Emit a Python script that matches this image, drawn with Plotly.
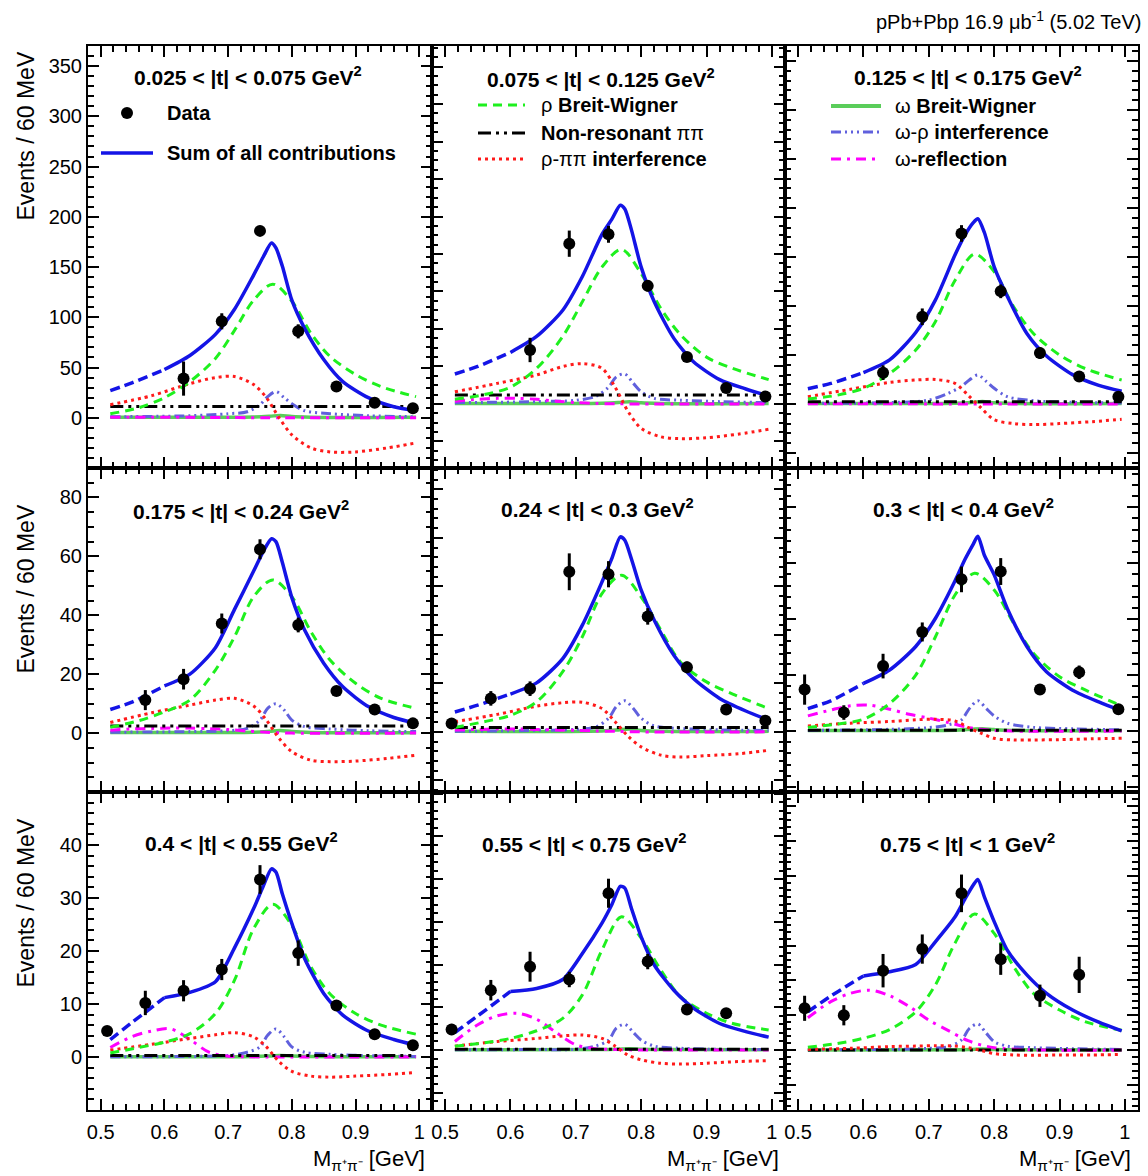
import plotly.graph_objects as go
from plotly.subplots import make_subplots

# ------------------------------------------------------------------ data
PANEL_LABELS = ["0.025 &lt; |t| &lt; 0.075 GeV", "0.075 &lt; |t| &lt; 0.125 GeV", "0.125 &lt; |t| &lt; 0.175 GeV",
                "0.175 &lt; |t| &lt; 0.24 GeV", "0.24 &lt; |t| &lt; 0.3 GeV", "0.3 &lt; |t| &lt; 0.4 GeV",
                "0.4 &lt; |t| &lt; 0.55 GeV", "0.55 &lt; |t| &lt; 0.75 GeV", "0.75 &lt; |t| &lt; 1 GeV"]

X_TICKS = [0.5, 0.6, 0.7, 0.8, 0.9, 1.0]
X_TICK_LABELS = ["0.5", "0.6", "0.7", "0.8", "0.9", "1"]
Y_TICKS_ROW = [[0, 50, 100, 150, 200, 250, 300, 350], [0, 20, 40, 60, 80], [0, 10, 20, 30, 40]]

DATA_X = [0.51, 0.57, 0.63, 0.69, 0.75, 0.81, 0.87, 0.93, 0.99]
DATA_Y = [
    [None, None, 39, 96, 186, 86, 31, 15, 9.5],
    [None, None, 57.6, 171, 181, 126, 50, 17, 8],
    [None, None, 32, 89, 174, 115, 52, 28, 7.5],
    [None, 11.2, 18.3, 37.2, 62.4, 36.7, 14.3, 8, 3.3],
    [1.7, 6.9, 8.9, 33, 32.5, 23.8, 13.3, 4.6, 2.3],
    [7.4, 3.3, 11.6, 17.7, 27.1, 28.5, 7.4, 10.5, 3.9],
    [4.9, 10.2, 12.5, 16.5, 33.5, 19.6, 9.7, 4.3, 2.2],
    [4.8, 14, 19.5, 16.5, 36.7, 20.7, 9.5, 8.6, None],
    [12, 10, 22.8, 29, 45, 26.1, 15.6, 21.6, None],
]
DATA_ERR = [
    [None, None, 17, 8, 5, 7, 4, 3, 2],
    [None, None, 13, 14, 9, 6, 5, 4, 3],
    [None, None, 7.5, 8.5, 8.5, 7, 6, 4, 3],
    [None, 3.4, 3.5, 3.4, 3.4, 2.5, 1.5, 1.2, 1],
    [0.8, 1.5, 1.5, 3.8, 2.7, 1.7, 1.2, 0.8, 0.8],
    [2.7, 1.3, 2.2, 1.7, 2.3, 2.4, 0.8, 1.2, 0.8],
    [0.6, 2.3, 2, 2, 2.7, 2.4, 0.8, 0.5, 0.5],
    [1.3, 2.4, 3.5, 1.8, 3.4, 1.8, 1.2, 1, None],
    [3.6, 2.9, 4.8, 4.2, 5.4, 4.5, 3.2, 5.2, None],
]

# Sum of all contributions
X_SUM = [0.515, 0.55, 0.60, 0.64, 0.68, 0.71, 0.74, 0.755, 0.768, 0.775, 0.785, 0.80, 0.82, 0.85, 0.88, 0.92, 0.96, 0.995]
SUM = [
    [27, 35, 48, 62, 83, 108, 142, 160, 174, 169, 151, 117, 89, 58, 36, 20, 11, 7],
    [32, 40, 55, 72, 100, 136, 181, 197, 212, 208, 186, 146, 109, 70, 45, 26, 16, 8.5],
    [15.6, 21, 32, 45, 73, 106, 152, 172, 185, 189, 175, 140, 110, 72, 49, 30, 19, 13],
    [8, 10.6, 16, 20, 29, 42, 55, 61.6, 66, 65, 58, 46, 35, 23.7, 15.7, 9, 5.3, 3.3],
    [4.1, 5.5, 7.8, 10.1, 15.1, 22, 30.9, 35.7, 40.2, 39.5, 35.7, 29.2, 23, 15.8, 11, 6.9, 4.3, 2.4],
    [4, 5.4, 8.5, 10.9, 15.1, 20.1, 26.8, 30.6, 33.4, 34.8, 31.4, 27.9, 21.9, 15.1, 10.6, 7.3, 5.2, 3.6],
    [3.3, 6.6, 11.2, 12.2, 14.2, 20.6, 28, 32.2, 35.5, 34.9, 30.8, 25.2, 18.6, 12, 7.9, 4.9, 3.3, 2.2],
    [4.1, 8, 13.7, 14.4, 16.5, 22.6, 29.7, 34, 38.3, 37.9, 33.2, 26.5, 19.9, 14, 9.8, 6.2, 4.3, 3],
    [11, 15.5, 21.3, 22.5, 24.6, 31.1, 38.2, 43.3, 47.4, 49, 44, 36.9, 28.7, 21.6, 16.3, 11.5, 8, 5.5],
]
FIT_START = 0.60

# rho Breit-Wigner
X_RHO = [0.515, 0.56, 0.60, 0.64, 0.68, 0.71, 0.74, 0.77, 0.80, 0.83, 0.86, 0.90, 0.94, 0.995]
RHO = [
    [4, 10, 20, 36, 59, 87, 117, 133, 116, 84, 61, 43, 31, 21],
    [5, 10, 18, 38, 72, 109, 146, 165, 139, 102, 74, 50, 38, 26],
    [5, 9, 16, 31, 55, 84, 126, 153, 135, 99, 72, 50, 36, 24.5],
    [2, 4.2, 7.2, 11.2, 21.4, 32.7, 46.3, 52, 46.3, 34.4, 24.8, 16.9, 11.8, 8.4],
    [0.9, 2.1, 3.4, 6.2, 12.4, 19.6, 28.5, 32.3, 27.8, 21, 14.4, 10.3, 7.8, 4.8],
    [0.65, 1.25, 2.1, 4.9, 10, 16.8, 24.3, 28.2, 25.2, 19.2, 13.9, 9.7, 7.3, 4.5],
    [0.75, 1.8, 2.8, 4.4, 8.2, 14.5, 24.2, 28.8, 24.8, 17, 11.9, 8.2, 6, 4.3],
    [0.9, 1.7, 2.7, 4.5, 7.4, 12.9, 23.4, 31.2, 26.2, 18.7, 12.5, 8.6, 6.2, 4.7],
    [0.8, 1.9, 3.4, 5.9, 11, 18.7, 30.7, 39.1, 33.5, 23.9, 16.3, 11.5, 8.1, 5.7],
]

# rho - pipi interference
X_INT = [0.515, 0.58, 0.64, 0.68, 0.71, 0.74, 0.76, 0.78, 0.80, 0.83, 0.86, 0.90, 0.95, 0.995]
INT = [
    [13, 22, 34, 40, 41, 33, 20, 0, -17, -30, -34, -34, -30, -25],
    [13, 22, 31, 40, 43, 38, 18, -8, -26, -35, -37, -36, -32, -27],
    [7.5, 15, 22, 24.5, 25, 21, 9, -4, -16, -20, -21, -20, -18, -15.6],
    [3.6, 6.9, 9.5, 11.2, 11.8, 9.2, 4.4, -1.8, -6.3, -9.2, -9.7, -9.5, -8.6, -7.5],
    [2.1, 3.6, 5.3, 6, 6.1, 4.8, 2.1, -0.9, -3.1, -4.8, -5.2, -4.9, -4.5, -3.8],
    [0.9, 1.4, 1.7, 2, 2.1, 1.8, 0.65, -0.4, -1.3, -1.6, -1.6, -1.55, -1.4, -1.3],
    [1.3, 2.4, 3.5, 4.2, 4.6, 3.8, 1.9, -0.9, -2.7, -3.6, -3.8, -3.6, -3.3, -2.9],
    [0.9, 2, 2.7, 3.3, 3.5, 2.7, 0.9, -1.2, -2.3, -3.1, -3.3, -3.1, -2.7, -2.5],
    [0.2, 0.5, 1, 1.15, 1.25, 1.15, 0.7, -0.1, -1, -1.4, -1.5, -1.4, -1.4, -1.25],
]

# non-resonant pipi (flat)
X_NR = [0.515, 0.995]
NR = [11.3, 9.6, 2.4, 2.4, 0.9, 0.15, 0.3, 0.15, 0.05]

# omega - rho interference
X_WR = [0.515, 0.64, 0.70, 0.73, 0.75, 0.762, 0.775, 0.788, 0.80, 0.82, 0.86, 0.92, 0.995]
WR = [
    [1, 2, 4, 6, 13, 21, 26, 20, 14, 7, 4, 2, 1],
    [1.4, 2.5, 4, 8, 18, 29, 32, 22, 13, 6, 4, 2.5, 1.4],
    [0.7, 1.4, 4, 11, 18, 24.5, 29.6, 23, 16, 7.5, 3.4, 1.7, 1],
    [0.3, 0.5, 0.8, 1.6, 4.4, 8.4, 10, 7.8, 4.4, 2.2, 1.4, 0.8, 0.5],
    [0.1, 0.3, 0.5, 1, 2.8, 5.2, 6.4, 4.8, 2.8, 1.2, 0.7, 0.4, 0.3],
    [0.1, 0.3, 0.6, 1.1, 2, 4, 5.4, 4, 2.7, 1.4, 0.65, 0.4, 0.2],
    [0.05, 0.1, 0.3, 0.9, 1.9, 4.1, 5.3, 3.8, 1.9, 0.9, 0.5, 0.25, 0.1],
    [0.05, 0.1, 0.15, 0.9, 2.3, 5.1, 6, 4.1, 2.3, 0.9, 0.4, 0.15, 0.1],
    [0.1, 0.2, 0.5, 1, 2.9, 6.2, 7.5, 4.8, 2.4, 1.15, 0.7, 0.4, 0.2],
]

# omega Breit-Wigner
X_WBW = [0.515, 0.74, 0.765, 0.782, 0.80, 0.83, 0.995]
WBW = [
    [0.5, 0.8, 1.5, 2.3, 1.2, 0.6, 0.4],
    [0.5, 0.8, 1.5, 2.5, 1.2, 0.6, 0.4],
    [0.5, 0.8, 1.5, 2.5, 1.2, 0.6, 0.4],
    [0.2, 0.3, 0.6, 0.9, 0.5, 0.2, 0.15],
    [0.1, 0.2, 0.4, 0.6, 0.3, 0.15, 0.1],
    [0.1, 0.15, 0.3, 0.4, 0.25, 0.1, 0.05],
    [0.05, 0.1, 0.2, 0.3, 0.2, 0.1, 0.05],
    [0.05, 0.1, 0.2, 0.3, 0.2, 0.1, 0.05],
    [0.05, 0.1, 0.2, 0.3, 0.2, 0.1, 0.05],
]

# omega reflection
X_REF = [0.515, 0.55, 0.58, 0.61, 0.64, 0.67, 0.70, 0.73, 0.76, 0.80, 0.995]
REF = [
    [0.5, 0.5, 0.5, 0.5, 0.4, 0.3, 0.2, 0.1, 0.1, 0, 0],
    [3, 5, 6, 6, 5, 3, 1.5, 0.5, 0.2, 0, 0],
    [0.3, 0.3, 0.3, 0.3, 0.2, 0.2, 0.1, 0.1, 0, 0, 0],
    [1, 1.4, 1.6, 1.7, 1.7, 1.5, 1.2, 0.7, 0.3, 0, 0],
    [0.4, 0.5, 0.6, 0.6, 0.5, 0.4, 0.3, 0.2, 0.1, 0, 0],
    [2.7, 3.75, 4.5, 4.6, 3.9, 3, 2.3, 1.5, 0.65, 0.1, 0],
    [1.8, 3.9, 4.9, 5.3, 3.3, 0.9, 0.15, 0.05, 0, 0, 0],
    [2, 5.9, 8, 8.6, 7.2, 4.1, 1.2, 0.3, 0.1, 0, 0],
    [9.3, 13.9, 16.3, 17.2, 15.6, 12.5, 8.6, 5.6, 2.7, 0.7, 0],
]

# ------------------------------------------------------------------ styling / layout config
FONT = "Liberation Sans"
C_SUM = "#1414E6"
C_RHO = "#1EF01E"
C_NR = "#000000"
C_INT = "#FF1A1A"
C_WBW = "#5ACD5A"
C_WR = "#6060DD"
C_REF = "#FF00FF"

D_SUMEXT = "10px,5px"
D_RHO = "9px,6px"
D_NR = "13px,5px,3px,5px,3px,5px"
D_INT = "3px,4px"
D_WR = "10px,4px,2px,4px,2px,4px,2px,4px"
D_REF = "10px,6px,3px,6px"

# per-panel y axis ranges and tick steps (major, minor)
Y_RANGES = [[-50, 370], [-68.3, 381.9], [-65.3, 365.3],
            [-20, 90], [-12.4, 54.4], [-10.9, 47.0],
            [-10, 50], [-14.05, 60.4], [-17.2, 74.1]]
Y_STEPS = [(50, 10), (40, 10), (50, 10),
           (20, 5), (10, 2), (10, 2),
           (10, 2), (10, 2), (10, 2)]

W, H = 1148, 1176
ML, MR, MT, MB = 88, 10, 46, 66
PW, PH = W - ML - MR, H - MT - MB


def px2x(px):
    return (px - ML) / PW


def px2y(py):
    return (H - MB - py) / PH


fig = make_subplots(rows=3, cols=3, column_widths=[344, 353, 353], row_heights=[422, 324, 318],
                    horizontal_spacing=0, vertical_spacing=0)

SPL = dict(shape="spline", smoothing=0.9)
SPL_SUM = dict(shape="spline", smoothing=0.7)

for i in range(9):
    r, c = divmod(i, 3)
    row, col = r + 1, c + 1

    def add(x, y, color, width, dash, spl=SPL):
        fig.add_trace(go.Scatter(x=x, y=y, mode="lines", showlegend=False, hoverinfo="skip",
                                 line=dict(color=color, width=width, dash=dash, **spl)), row=row, col=col)

    add(X_WBW, WBW[i], C_WBW, 3.5, "solid")
    add(X_WR, WR[i], C_WR, 3, D_WR)
    add(X_REF, REF[i], C_REF, 3, D_REF)
    add(X_NR, [NR[i], NR[i]], C_NR, 3, D_NR)
    add(X_INT, INT[i], C_INT, 3, D_INT)
    add(X_RHO, RHO[i], C_RHO, 3, D_RHO)
    xs_ext = [x for x in X_SUM if x <= FIT_START]
    ys_ext = [y for x, y in zip(X_SUM, SUM[i]) if x <= FIT_START]
    xs_fit = [x for x in X_SUM if x >= FIT_START]
    ys_fit = [y for x, y in zip(X_SUM, SUM[i]) if x >= FIT_START]
    add(xs_ext, ys_ext, C_SUM, 3.5, D_SUMEXT, SPL_SUM)
    add(xs_fit, ys_fit, C_SUM, 3.5, "solid", SPL_SUM)

    fig.add_trace(go.Scatter(x=DATA_X, y=DATA_Y[i], mode="markers", showlegend=False,
                             marker=dict(color="black", size=12),
                             error_y=dict(type="data", array=DATA_ERR[i], width=0, thickness=3, color="black")),
                  row=row, col=col)

    axis_common = dict(ticks="inside", tickwidth=2, tickcolor="black", showline=True, linewidth=2,
                       linecolor="black", mirror="ticks", showgrid=False, zeroline=False,
                       tickfont=dict(family=FONT, size=20, color="black"))
    fig.update_xaxes(range=[0.48, 1.02], tickmode="array", tickvals=X_TICKS, ticktext=X_TICK_LABELS,
                     ticklen=11, showticklabels=(r == 2), ticklabelstandoff=3,
                     minor=dict(tickmode="linear", tick0=0.5, dtick=0.02, ticks="inside", ticklen=6,
                                tickwidth=2, tickcolor="black"),
                     row=row, col=col, **axis_common)
    major, minor = Y_STEPS[i]
    if c == 0:
        yt = dict(tickmode="array", tickvals=Y_TICKS_ROW[r], ticktext=[str(v) for v in Y_TICKS_ROW[r]])
    else:
        yt = dict(tickmode="linear", tick0=0, dtick=major)
    fig.update_yaxes(range=Y_RANGES[i], ticklen=11, showticklabels=(c == 0), ticklabelstandoff=0,
                     minor=dict(tickmode="linear", tick0=0, dtick=minor, ticks="inside", ticklen=6,
                                tickwidth=2, tickcolor="black"),
                     row=row, col=col, **yt, **axis_common)

annotations = []
# panel labels
LABEL_POS = [(248, 76), (601, 78), (968, 76), (241, 510), (597, 508), (963, 508),
             (241, 842), (584, 843), (967, 843)]
for lab, (px, py) in zip(PANEL_LABELS, LABEL_POS):
    annotations.append(dict(text=lab + "<sup>2</sup>", x=px2x(px), y=px2y(py), xref="paper", yref="paper",
                            xanchor="center", yanchor="middle", showarrow=False,
                            font=dict(family=FONT, size=21, color="black", weight="bold")))
# y titles
for py in [50, 503, 817]:
    annotations.append(dict(text="Events / 60 MeV", x=px2x(25), y=px2y(py), xref="paper", yref="paper",
                            xanchor="center", yanchor="top", textangle=-90, showarrow=False,
                            font=dict(family=FONT, size=23, color="black")))
# x titles
for px in [427, 781, 1133]:
    annotations.append(dict(text="M<sub>π⁺π⁻</sub> [GeV]", x=px2x(px), y=px2y(1160), xref="paper",
                            yref="paper", xanchor="right", yanchor="middle", showarrow=False,
                            font=dict(family=FONT, size=22, color="black")))
# top-right text
annotations.append(dict(text="pPb+Pbp 16.9 μb<sup>-1</sup> (5.02 TeV)", x=px2x(1143), y=px2y(20),
                        xref="paper", yref="paper", xanchor="right", yanchor="middle", showarrow=False,
                        font=dict(family=FONT, size=20, color="black")))

# legends (keys drawn as shapes, labels as text)
G = "<span style='font-weight:normal'>%s</span>"
LEGEND = [
    # (kind, x0, x1, y, color, width, dash, text_x, text)
    ("marker", 127, 127, 113, "black", 0, None, 165, "Data"),
    ("line", 101, 153, 153, C_SUM, 3.5, "solid", 165, "Sum of all contributions"),
    ("line", 478, 525, 105, C_RHO, 3, D_RHO, 539, G % "ρ" + " Breit-Wigner"),
    ("line", 478, 527, 133, C_NR, 3, D_NR, 539, "Non-resonant " + G % "ππ"),
    ("line", 478, 525, 159, C_INT, 3, D_INT, 539, G % "ρ-ππ" + " interference"),
    ("line", 831, 881, 106, C_WBW, 4, "solid", 893, G % "ω" + " Breit-Wigner"),
    ("line", 831, 881, 132, C_WR, 3, D_WR, 893, G % "ω-ρ" + " interference"),
    ("line", 831, 875, 159, C_REF, 3, D_REF, 893, G % "ω" + "-reflection"),
]
shapes = []
for kind, x0, x1, y, color, width, dash, tx, text in LEGEND:
    if kind == "marker":
        shapes.append(dict(type="circle", xref="paper", yref="paper", xsizemode="pixel", ysizemode="pixel",
                           xanchor=px2x(x0), yanchor=px2y(y), x0=-6, x1=6, y0=-6, y1=6,
                           fillcolor="black", line=dict(width=0)))
    else:
        shapes.append(dict(type="line", xref="paper", yref="paper", x0=px2x(x0), x1=px2x(x1),
                           y0=px2y(y), y1=px2y(y), line=dict(color=color, width=width, dash=dash)))
    annotations.append(dict(text=text, x=px2x(tx), y=px2y(y), xref="paper", yref="paper",
                            xanchor="left", yanchor="middle", showarrow=False,
                            font=dict(family=FONT, size=20, color="black", weight="bold")))

fig.update_layout(width=W, height=H, margin=dict(l=ML, r=MR, t=MT, b=MB, autoexpand=False),
                  paper_bgcolor="white", plot_bgcolor="white", showlegend=False,
                  annotations=annotations, shapes=shapes,
                  font=dict(family=FONT, color="black"))

fig.write_html("out.html", config={"displayModeBar": False},
               post_script="document.body.style.margin='0px';")
